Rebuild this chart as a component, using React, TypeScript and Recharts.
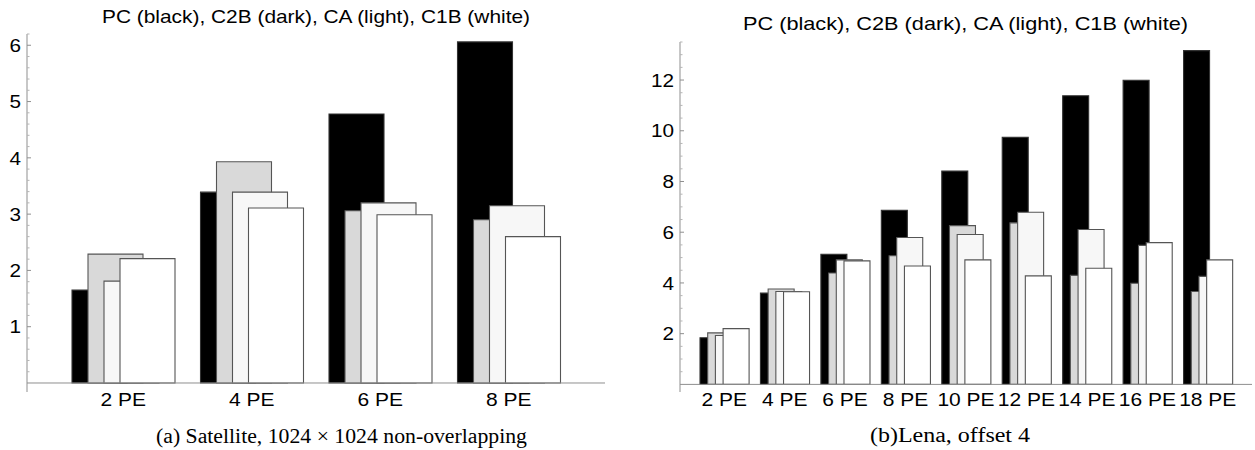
import React from 'react';
import { BarChart, Bar, XAxis, YAxis, ReferenceLine } from 'recharts';

// ---- Data: (a) Satellite ----
const leftCategories = ['2 PE', '4 PE', '6 PE', '8 PE'];
const leftPC = [1.65, 3.39, 4.78, 6.06];
const leftC2B = [2.29, 3.93, 3.06, 2.9];
const leftCA = [1.81, 3.39, 3.2, 3.15];
const leftC1B = [2.21, 3.11, 2.99, 2.6];

// ---- Data: (b) Lena ----
const rightCategories = ['2 PE', '4 PE', '6 PE', '8 PE', '10 PE', '12 PE', '14 PE', '16 PE', '18 PE'];
const rightPC = [1.84, 3.6, 5.13, 6.86, 8.41, 9.74, 11.38, 11.99, 13.16];
const rightC2B = [2.03, 3.76, 4.39, 5.07, 6.26, 6.37, 4.3, 3.99, 3.66];
const rightCA = [1.93, 3.66, 4.91, 5.79, 5.91, 6.79, 6.11, 5.48, 4.26];
const rightC1B = [2.2, 3.65, 4.87, 4.67, 4.91, 4.28, 4.58, 5.59, 4.91];

// ---- Ticks ----
const leftMajorTicks = [1, 2, 3, 4, 5, 6];
const leftAllTicks = [
  0.2, 0.4, 0.6, 0.8, 1, 1.2, 1.4, 1.6, 1.8, 2, 2.2, 2.4, 2.6, 2.8, 3, 3.2, 3.4, 3.6, 3.8, 4,
  4.2, 4.4, 4.6, 4.8, 5, 5.2, 5.4, 5.6, 5.8, 6, 6.2,
];
const rightMajorTicks = [2, 4, 6, 8, 10, 12];
const rightAllTicks = [
  0.5, 1, 1.5, 2, 2.5, 3, 3.5, 4, 4.5, 5, 5.5, 6, 6.5, 7, 7.5, 8, 8.5, 9, 9.5, 10, 10.5, 11,
  11.5, 12, 12.5, 13, 13.5,
];

// ---- Texts ----
const titleText = 'PC (black), C2B (dark), CA (light), C1B (white)';
const captionA = '(a) Satellite, 1024 \u00d7 1024 non-overlapping';
const captionB = '(b)Lena, offset 4';

const seriesKeys = ['PC', 'C2B', 'CA', 'C1B'];
const seriesFills = ['#000000', '#d9d9d9', '#f7f7f7', '#ffffff'];
const seriesStrokes = ['#333333', '#555555', '#555555', '#555555'];

const buildData = (cats: string[], a: number[], b: number[], c: number[], d: number[]) =>
  cats.map((name, i) => ({ name, PC: a[i], C2B: b[i], CA: c[i], C1B: d[i] }));

const leftData = buildData(leftCategories, leftPC, leftC2B, leftCA, leftC1B);
const rightData = buildData(rightCategories, rightPC, rightC2B, rightCA, rightC1B);

const SANS = '"Liberation Sans", Arial, Helvetica, sans-serif';
const SERIF = '"Liberation Serif", "Times New Roman", serif';
const AXIS = '#8f8f8f';

const makeYTick = (major: number[]) => (props: any) => {
  const { x, y, payload } = props;
  const v = payload.value as number;
  const isMajor = major.some((m) => Math.abs(m - v) < 1e-6);
  return (
    <g>
      <line x1={x} x2={x + (isMajor ? 4 : 2.5)} y1={y} y2={y} stroke={isMajor ? AXIS : '#b5b5b5'} strokeWidth={1} />
      {isMajor && (
        <text
          transform={`translate(${x - 6},${y}) scale(1.12,1)`}
          textAnchor="end"
          dy="0.36em"
          fontSize={18.5}
          fill="#000"
          fontFamily={SANS}
        >
          {String(v)}
        </text>
      )}
    </g>
  );
};

const XTick = (props: any) => {
  const { x, y, payload } = props;
  return (
    <text
      transform={`translate(${x},${y}) scale(1.2,1)`}
      textAnchor="middle"
      dy="0.71em"
      fontSize={17.5}
      fill="#000"
      fontFamily={SANS}
    >
      {payload.value}
    </text>
  );
};

type PanelProps = {
  data: any[];
  width: number;
  height: number;
  margin: { top: number; right: number; bottom: number; left: number };
  yWidth: number;
  domain: [number, number];
  ticks: number[];
  major: number[];
  pad: number;
  barSize: number;
  barGap: number;
};

const Panel = ({ data, width, height, margin, yWidth, domain, ticks, major, pad, barSize, barGap }: PanelProps) => (
  <BarChart width={width} height={height} data={data} margin={margin} barSize={barSize} barGap={barGap}>
    <XAxis
      dataKey="name"
      axisLine={false}
      tickLine={false}
      tickSize={0}
      tickMargin={2}
      height={30}
      interval={0}
      padding={{ left: pad, right: pad }}
      tick={XTick}
    />
    <YAxis
      type="number"
      domain={domain}
      ticks={ticks}
      interval={0}
      width={yWidth}
      axisLine={{ stroke: AXIS, strokeWidth: 1 }}
      tickLine={false}
      tickSize={0}
      tickMargin={0}
      tick={makeYTick(major)}
      allowDataOverflow
    />
    {seriesKeys.map((k, i) => (
      <Bar
        key={k}
        dataKey={k}
        fill={seriesFills[i]}
        stroke={seriesStrokes[i]}
        strokeWidth={1.1}
        isAnimationActive={false}
      />
    ))}
    <ReferenceLine y={0} stroke={AXIS} strokeWidth={1} />
  </BarChart>
);

export default function App() {
  return (
    <div style={{ position: 'absolute', left: 0, top: 0, width: 1255, height: 450, background: '#fff', overflow: 'hidden' }}>
      <div style={{ position: 'absolute', left: 0, top: 0 }}>
        <Panel
          data={leftData}
          width={620}
          height={422}
          margin={{ top: 34, right: 15, bottom: 0, left: 0 }}
          yWidth={27}
          domain={[-0.16, 6.2]}
          ticks={leftAllTicks}
          major={leftMajorTicks}
          pad={32}
          barSize={55}
          barGap={-39}
        />
      </div>
      <div style={{ position: 'absolute', left: 650, top: 0 }}>
        <Panel
          data={rightData}
          width={605}
          height={422}
          margin={{ top: 42, right: 3, bottom: 0, left: 0 }}
          yWidth={30}
          domain={[-0.3, 13.5]}
          ticks={rightAllTicks}
          major={rightMajorTicks}
          pad={14}
          barSize={26}
          barGap={-18.3}
        />
      </div>
      <svg
        width={1255}
        height={450}
        style={{ position: 'absolute', left: 0, top: 0, pointerEvents: 'none' }}
      >
        <text x={102} y={23} fontSize={18.5} fontFamily={SANS} fill="#000" textLength={428} lengthAdjust="spacingAndGlyphs">
          {titleText}
        </text>
        <text x={743} y={30} fontSize={19} fontFamily={SANS} fill="#000" textLength={445} lengthAdjust="spacingAndGlyphs">
          {titleText}
        </text>
        <text x={156} y={443} fontSize={20.5} fontFamily={SERIF} fill="#000" textLength={371} lengthAdjust="spacingAndGlyphs">
          {captionA}
        </text>
        <text x={870} y={442} fontSize={20.5} fontFamily={SERIF} fill="#000" textLength={160} lengthAdjust="spacingAndGlyphs">
          {captionB}
        </text>
      </svg>
    </div>
  );
}
